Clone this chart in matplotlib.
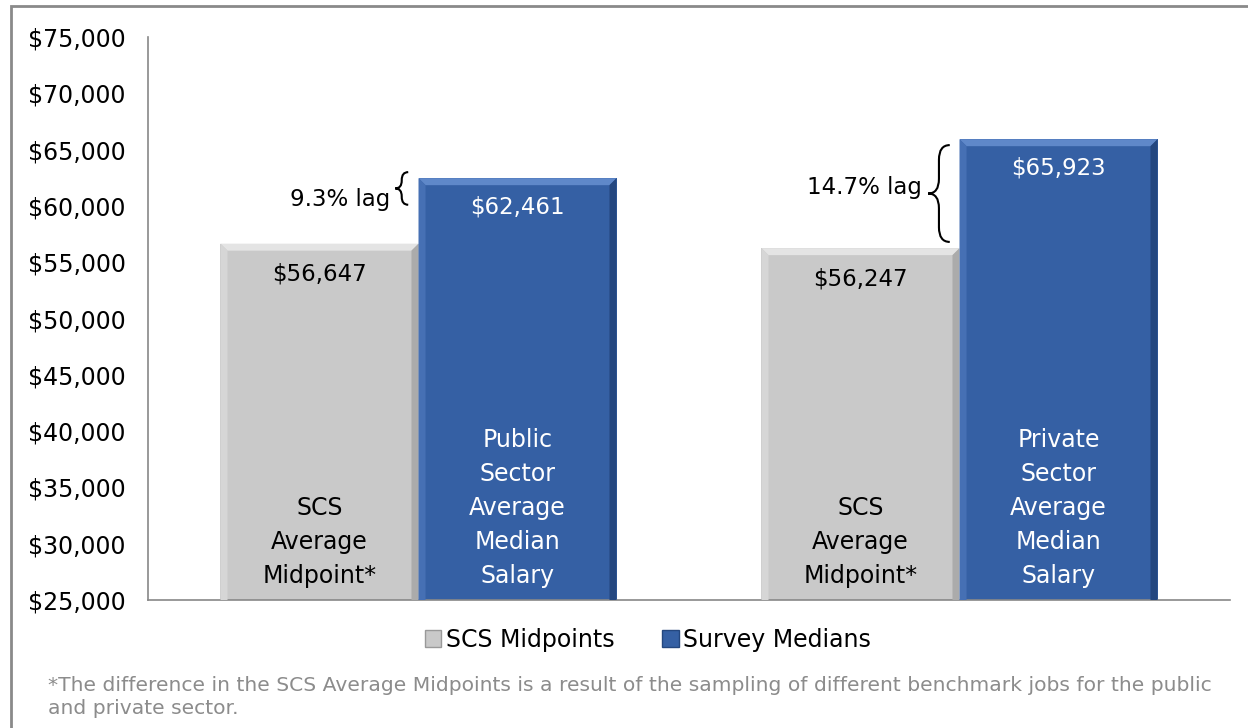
import matplotlib.pyplot as plt
from matplotlib.patches import Patch, Polygon, Rectangle, PathPatch
from matplotlib.path import Path
import numpy as np

plt.rcParams['font.family'] = ['DejaVu Sans']

# data
groups = ['Public', 'Private']
scs_midpoints = [56647, 56247]
survey_medians = [62461, 65923]
scs_labels = ['SCS\nAverage\nMidpoint*', 'SCS\nAverage\nMidpoint*']
survey_labels = ['Public\nSector\nAverage\nMedian\nSalary', 'Private\nSector\nAverage\nMedian\nSalary']
lag_labels = ['9.3% lag', '14.7% lag']
yticks = list(range(25000, 75001, 5000))

gray = '#C9C9C9'
blue = '#3560A4'


def bevel(ax, bar, top, left, right, bw=0.013, bh=620):
    x0, y0 = bar.get_x(), bar.get_y()
    x1, y1 = x0 + bar.get_width(), y0 + bar.get_height()
    ax.add_patch(Polygon([(x0, y1), (x1, y1), (x1 - bw, y1 - bh), (x0 + bw, y1 - bh)],
                         closed=True, facecolor=top, edgecolor='none', zorder=3))
    ax.add_patch(Polygon([(x0, y0), (x0, y1), (x0 + bw, y1 - bh), (x0 + bw, y0)],
                         closed=True, facecolor=left, edgecolor='none', zorder=3))
    ax.add_patch(Polygon([(x1, y0), (x1, y1), (x1 - bw, y1 - bh), (x1 - bw, y0)],
                         closed=True, facecolor=right, edgecolor='none', zorder=3))


def brace(ax, xl, xr, yb, yt, d=800):
    xm = (xl + xr) / 2
    ym = (yb + yt) / 2
    verts = [(xr, yt), (xm, yt), (xm, yt - d), (xm, ym + d), (xm, ym), (xl, ym),
             (xm, ym), (xm, ym - d), (xm, yb + d), (xm, yb), (xr, yb)]
    codes = [Path.MOVETO, Path.CURVE3, Path.CURVE3, Path.LINETO, Path.CURVE3, Path.CURVE3,
             Path.CURVE3, Path.CURVE3, Path.LINETO, Path.CURVE3, Path.CURVE3]
    ax.add_patch(PathPatch(Path(verts, codes), facecolor='none', edgecolor='black',
                           lw=1.5, zorder=4))


fig = plt.figure(figsize=(12.48, 7.28), dpi=100)
ax = fig.add_axes([148 / 1248, 128 / 728, 1082 / 1248, 563 / 728])

x = np.arange(len(groups))
w = 0.366
b1 = ax.bar(x - w / 2, scs_midpoints, w, color=gray, zorder=2)
b2 = ax.bar(x + w / 2, survey_medians, w, color=blue, zorder=2)

for bar in b1:
    bevel(ax, bar, '#E4E4E4', '#D6D6D6', '#ABABAB')
for bar in b2:
    bevel(ax, bar, '#5F88C9', '#4670B4', '#24477F')

ax.set_xlim(-0.5, 1.5)
ax.set_ylim(25000, 75000)
ax.set_yticks(yticks)
ax.set_yticklabels(['${:,}'.format(v) for v in yticks])
ax.set_xticks([])
ax.tick_params(axis='y', length=0, pad=16, labelsize=17)
for s in ['top', 'right']:
    ax.spines[s].set_visible(False)
for s in ['left', 'bottom']:
    ax.spines[s].set_color('#888888')
    ax.spines[s].set_linewidth(1.2)

# value labels near bar tops
for bar, v in zip(b1, scs_midpoints):
    ax.annotate('${:,}'.format(v), (bar.get_x() + bar.get_width() / 2, v),
                xytext=(0, -22), textcoords='offset points', ha='center', va='center',
                fontsize=16.5, color='black', zorder=5)
for bar, v in zip(b2, survey_medians):
    ax.annotate('${:,}'.format(v), (bar.get_x() + bar.get_width() / 2, v),
                xytext=(0, -21), textcoords='offset points', ha='center', va='center',
                fontsize=16.5, color='white', zorder=5)

# category labels at bar bottoms
for bar, lab in zip(b1, scs_labels):
    ax.annotate(lab, (bar.get_x() + bar.get_width() / 2, 25000), xytext=(0, 9),
                textcoords='offset points', ha='center', va='bottom', fontsize=17,
                linespacing=1.52, color='black', zorder=5)
for bar, lab in zip(b2, survey_labels):
    ax.annotate(lab, (bar.get_x() + bar.get_width() / 2, 25000), xytext=(0, 9),
                textcoords='offset points', ha='center', va='bottom', fontsize=17,
                linespacing=1.52, color='white', zorder=5)

# lag braces
brace(ax, -0.043, -0.019, 60100, 63000, d=700)
ax.text(-0.052, 60600, lag_labels[0], ha='right', va='center', fontsize=16.5)
brace(ax, 0.942, 0.982, 56800, 65400, d=1300)
ax.text(0.930, 61600, lag_labels[1], ha='right', va='center', fontsize=16.5)

# legend
handles = [Patch(facecolor=gray, edgecolor='#999999', label='SCS Midpoints'),
           Patch(facecolor=blue, edgecolor='#24477F', label='Survey Medians')]
fig.legend(handles=handles, loc='center', bbox_to_anchor=(648 / 1248, 1 - 640 / 728),
           ncol=2, frameon=False, fontsize=17, handlelength=0.7, handleheight=0.7,
           handletextpad=0.2, columnspacing=2.0)

fig.text(48 / 1248, 1 - 697 / 728,
         '*The difference in the SCS Average Midpoints is a result of the sampling of different benchmark jobs for the public\nand private sector.',
         ha='left', va='center', fontsize=14.6, color='#8C8C8C', linespacing=1.25)

fig.patches.append(Rectangle((11 / 1248, -0.05), 1.2, 1 - 6 / 728 + 0.05,
                             transform=fig.transFigure, fill=False,
                             edgecolor='#8A8A8A', lw=2))

fig.savefig('out.png', dpi=100)
